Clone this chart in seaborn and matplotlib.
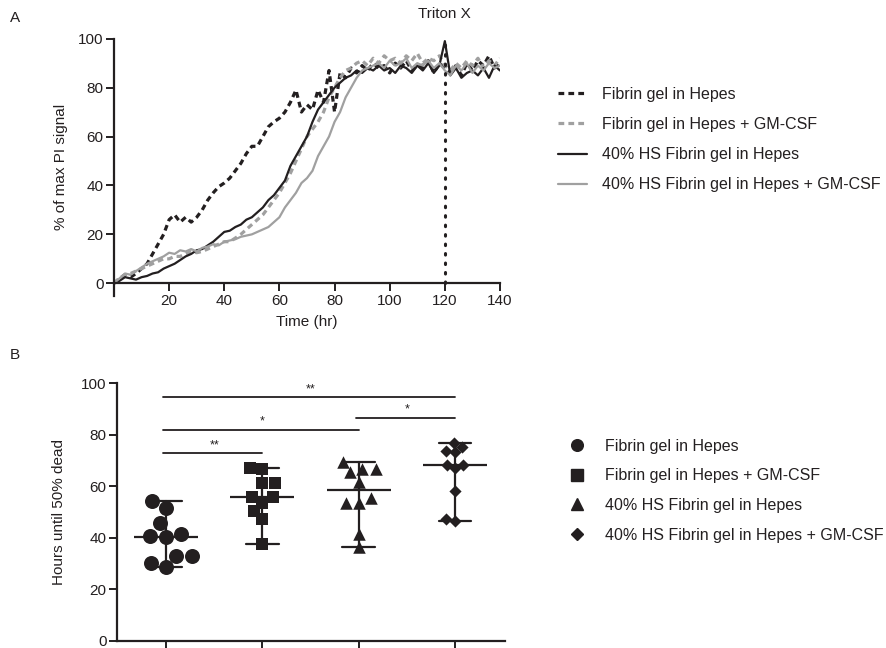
import numpy as np
import pandas as pd
import matplotlib
matplotlib.use('Agg')
import matplotlib.pyplot as plt
from matplotlib.lines import Line2D
import seaborn as sns

# Panel A - % of max PI signal, read every 2 hr from 0 to 140 hr
TIME_HR = list(range(0, 141, 2))
FIBRIN = [0, 2, 3.5, 2.5, 4, 6, 8, 12, 16, 20,
          26, 28, 25, 27, 25, 27, 30, 34, 37, 39.5,
          41, 43, 46, 49, 53, 56, 56, 60, 64, 66,
          67.5, 70, 74, 79, 70, 73, 71, 79, 74, 87,
          70, 86, 84, 88, 86, 89, 87, 90, 88, 89,
          86, 90, 88, 91, 87, 89, 88, 91, 86, 90,
          88, 86, 89, 85, 90, 87, 91, 89, 93, 88,
          91]
FIBRIN_GMCSF = [0, 2, 3.5, 4, 5, 6, 7, 8, 9, 10,
                10, 11, 11, 12, 13, 12.5, 13, 14, 15, 16,
                17, 17, 18.5, 20, 22, 24, 26, 28, 31, 34,
                37, 41, 45, 50, 55, 60, 63, 66, 70, 76,
                80, 84, 87, 88, 90, 91, 89, 92, 90, 93,
                91, 92, 90, 93, 91, 94, 90, 92, 91, 93,
                89, 87, 90, 88, 91, 89, 92, 88, 91, 89,
                92]
HS_FIBRIN = [0, 1, 2.5, 2, 1.5, 2.5, 3, 4, 4.5, 6,
             7, 8, 9.5, 11, 12, 13.5, 14, 15.5, 17, 19,
             21, 21.5, 23, 24, 26, 27, 29, 31, 34, 36,
             39, 42, 48, 52, 56, 60, 66, 71, 74, 77,
             80, 82, 84, 85, 87, 86, 88, 87, 89, 87,
             88, 86, 89, 88, 86, 89, 87, 90, 86, 89,
             99, 85, 88, 84, 86, 87, 85, 88, 84, 89,
             87]
HS_FIBRIN_GMCSF = [0, 2, 4, 3.5, 5, 6.5, 8, 9, 10, 11,
                   12.5, 12, 13.5, 13, 14, 13, 14.5, 15, 16, 15.5,
                   17, 17.5, 18, 19, 19.5, 20, 21, 22, 23, 25,
                   27, 31, 34, 37, 41, 43, 46, 52, 56, 60,
                   66, 70, 76, 80, 84, 87, 88, 89, 90, 88,
                   91, 89, 90, 92, 88, 90, 89, 91, 88, 90,
                   87, 85, 89, 87, 90, 86, 89, 87, 90, 88,
                   89]
TRITON_HR = 120

SERIES_NAMES = ['Fibrin gel in Hepes', 'Fibrin gel in Hepes + GM-CSF',
                '40% HS Fibrin gel in Hepes', '40% HS Fibrin gel in Hepes + GM-CSF']

# Panel B - hours until 50% dead, 10 gels per condition
HOURS_FIBRIN = [54.4, 51.7, 45.6, 40.7, 40.2, 41.5, 33.0, 33.0, 28.5, 30.1]
HOURS_FIBRIN_GMCSF = [67.0, 66.6, 61.4, 61.2, 55.8, 55.8, 53.6, 50.5, 47.3, 37.5]
HOURS_HS = [69.5, 66.7, 65.4, 66.7, 61.8, 53.6, 53.4, 55.3, 41.5, 36.5]
HOURS_HS_GMCSF = [76.7, 75.4, 73.8, 73.3, 68.4, 68.4, 67.0, 58.2, 46.5, 47.2]

# significance brackets: (group a, group b, bracket height, label)
SIG_BARS = [(0, 3, 94.5, '**'), (2, 3, 86.6, '*'), (0, 2, 82.0, '*'), (0, 1, 72.9, '**')]

INK = '#231f20'
GREY = '#a0a0a0'

sns.set_theme(style='ticks')
plt.rcParams['font.family'] = ['Liberation Sans', 'DejaVu Sans']
plt.rcParams['text.color'] = INK
plt.rcParams['axes.labelcolor'] = INK
plt.rcParams['xtick.color'] = INK
plt.rcParams['ytick.color'] = INK

fig = plt.figure(figsize=(8.87, 6.48), dpi=100)

# ---------------- panel A ----------------
axA = fig.add_axes([0.1285, 0.5432, 0.4352, 0.3971])

styles = [
    dict(color=INK, lw=2.3, linestyle=(0, (1.8, 1.3))),
    dict(color=GREY, lw=2.3, linestyle=(0, (1.8, 1.3))),
    dict(color=INK, lw=1.6, linestyle='-'),
    dict(color=GREY, lw=1.6, linestyle='-'),
]
series = [FIBRIN, FIBRIN_GMCSF, HS_FIBRIN, HS_FIBRIN_GMCSF]
for name, vals, st in zip(SERIES_NAMES, series, styles):
    sns.lineplot(x=TIME_HR, y=vals, ax=axA, label=name, **st)

axA.vlines(TRITON_HR, 0, 100, color=INK, lw=2.2, linestyle=(0, (0.5, 2.6)),
           capstyle='round', zorder=5)
axA.text(TRITON_HR, 1.096, 'Triton X', transform=axA.get_xaxis_transform(),
         ha='center', va='center', fontsize=11)

axA.set_xlim(0, 140)
axA.set_ylim(-5.2, 100)
axA.set_xticks([20, 40, 60, 80, 100, 120, 140])
axA.set_yticks([0, 20, 40, 60, 80, 100])
axA.spines['bottom'].set_position(('data', 0))
sns.despine(ax=axA)
for sp in ['left', 'bottom']:
    axA.spines[sp].set_linewidth(1.6)
    axA.spines[sp].set_color(INK)
axA.tick_params(length=5.5, width=1.4, labelsize=11, pad=2)
axA.set_xlabel('Time (hr)', fontsize=11, labelpad=5)
axA.set_ylabel('% of max PI signal', fontsize=11, labelpad=7)

axA.legend(loc='upper left', bbox_to_anchor=(0.629, 0.8660), bbox_transform=fig.transFigure,
           frameon=False, fontsize=11.5, handlelength=1.8, handletextpad=0.94,
           labelspacing=0.95, borderpad=0, borderaxespad=0)

# ---------------- panel B ----------------
axB = fig.add_axes([0.1319, 0.0113, 0.4374, 0.3972])

groups = SERIES_NAMES
df = pd.DataFrame({
    'group': np.repeat(groups, 10),
    'hours': HOURS_FIBRIN + HOURS_FIBRIN_GMCSF + HOURS_HS + HOURS_HS_GMCSF,
})
markers = ['o', 's', '^', 'D']
sizes = [10.8, 8.4, 9.0, 6.2]
for g, m, s in zip(groups, markers, sizes):
    sns.swarmplot(data=df[df['group'] == g], x='group', y='hours', order=groups,
                  marker=m, size=s, color=INK, linewidth=0, ax=axB)

sns.pointplot(data=df, x='group', y='hours', order=groups, estimator='median',
              errorbar=lambda v: (v.min(), v.max()), capsize=0.34, color=INK,
              linestyle='none', marker='_', markersize=46, markeredgewidth=1.6,
              err_kws={'linewidth': 1.6}, ax=axB)

for a, b, h, lab in SIG_BARS:
    axB.plot([a - 0.03, b], [h, h], color=INK, lw=1.3)
    axB.text((a + b) / 2, h + 0.8, lab, ha='center', va='bottom', fontsize=9)

axB.set_xlim(-0.51, 3.52)
axB.set_ylim(0, 100)
axB.set_yticks([0, 20, 40, 60, 80, 100])
axB.set_xticks(range(4))
axB.set_xticklabels([])
axB.set_xlabel('')
sns.despine(ax=axB)
for sp in ['left', 'bottom']:
    axB.spines[sp].set_linewidth(1.6)
    axB.spines[sp].set_color(INK)
axB.tick_params(length=5.5, width=1.4, labelsize=11, pad=2)
axB.set_ylabel('Hours until 50% dead', fontsize=11, labelpad=11)

handles = [Line2D([], [], marker=m, linestyle='none', color=INK, markersize=s)
           for m, s in zip(markers, [8.4, 8.4, 8.6, 6.0])]
axB.legend(handles, groups, loc='upper left', bbox_to_anchor=(0.6415, 0.3232),
           bbox_transform=fig.transFigure, frameon=False, fontsize=11.5,
           handlelength=1.0, handletextpad=1.25, labelspacing=0.92,
           borderpad=0, borderaxespad=0)

fig.text(15 / 887, 1 - 18 / 648, 'A', ha='center', va='center', fontsize=11)
fig.text(15 / 887, 1 - 355 / 648, 'B', ha='center', va='center', fontsize=11)

fig.savefig('out.png', dpi=100)
